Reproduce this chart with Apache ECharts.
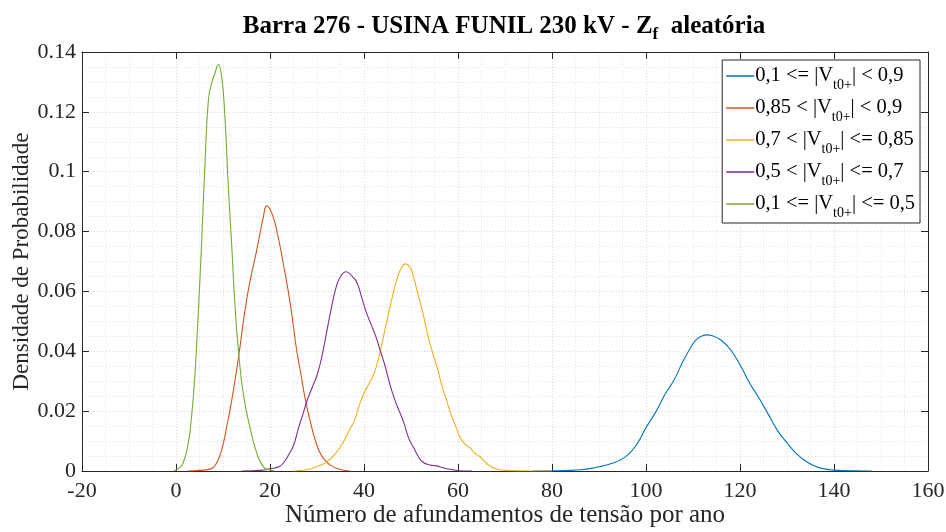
<!DOCTYPE html>
<html><head><meta charset="utf-8">
<script src="https://cdn.jsdelivr.net/npm/echarts@6/dist/echarts.min.js"></script>
<style>html,body{margin:0;padding:0;background:#fff}#c{width:946px;height:532px}</style>
</head><body><div id="c"></div>
<script>
const xTicks = [-20, 0, 20, 40, 60, 80, 100, 120, 140, 160];
const yTicks = [0, 0.02, 0.04, 0.06, 0.08, 0.1, 0.12, 0.14];
const seriesNames = [
  '0,1 <= |V{sub|t0+}| < 0,9',
  '0,85 < |V{sub|t0+}| < 0,9',
  '0,7 < |V{sub|t0+}| <= 0,85',
  '0,5 < |V{sub|t0+}| <= 0,7',
  '0,1 <= |V{sub|t0+}| <= 0,5'
];
const blue = [[76,0],[80,0.00005],[84,0.0002],[86,0.0004],[88,0.0008],[90,0.0014],[92,0.0022],[94,0.0033],[96,0.0052],[98,0.0088],[100,0.0145],[102,0.0195],[104,0.0255],[106,0.0305],[108,0.037],[110,0.0425],[111,0.0443],[112,0.0452],[113,0.0455],[114,0.0453],[116,0.0437],[118,0.0405],[120,0.0355],[122,0.0295],[124,0.0245],[126,0.019],[128,0.0135],[130,0.0094],[132,0.0058],[134,0.0033],[136,0.0016],[138,0.0007],[140,0.0003],[144,0.00005],[148,0]];
const red = [[2.5,0],[5,0.0002],[7.5,0.0008],[8.6,0.0026],[9.7,0.007],[10.8,0.0148],[11.9,0.024],[13.3,0.038],[14.7,0.054],[15.7,0.063],[17.2,0.074],[18.6,0.085],[19.3,0.0886],[20.3,0.0865],[21.4,0.0806],[22.8,0.0695],[24.3,0.056],[25.7,0.040],[26.4,0.034],[27.5,0.024],[28.5,0.017],[29.5,0.011],[30.5,0.0065],[31.5,0.004],[33,0.0018],[35,0.0005],[37,0]];
const yellow = [[25,0],[28,0.0005],[30,0.0015],[32,0.003],[34,0.006],[35.5,0.0094],[37,0.014],[38,0.017],[39,0.022],[40,0.026],[41,0.029],[42,0.032],[43,0.037],[44,0.044],[45,0.051],[46,0.058],[47,0.064],[48,0.068],[48.8,0.0692],[49.8,0.068],[50.5,0.065],[51.5,0.059],[52.5,0.053],[53.5,0.046],[54.5,0.040],[55.5,0.035],[56.5,0.029],[57.5,0.024],[58.5,0.019],[59.5,0.015],[60.5,0.011],[61.5,0.009],[62.5,0.0078],[63.5,0.006],[64.5,0.005],[65.5,0.0035],[66.5,0.002],[68,0.0008],[70,0.0002],[75,0],[80,0]];
const purple = [[14,0],[18,0.0002],[20,0.0007],[22,0.0015],[23,0.003],[24,0.0055],[25,0.0085],[26,0.014],[27,0.019],[28,0.024],[29,0.028],[30,0.032],[31,0.038],[32,0.046],[33,0.054],[34,0.061],[35,0.065],[36.2,0.0666],[37.5,0.065],[38.5,0.063],[39.5,0.058],[40.5,0.053],[41.5,0.049],[42.5,0.045],[43.5,0.04],[44.5,0.035],[45.5,0.029],[46.5,0.024],[47.5,0.02],[48.5,0.016],[49.5,0.011],[50.5,0.008],[51.5,0.005],[52.5,0.003],[54,0.002],[55.5,0.0017],[57,0.001],[58.5,0.0005],[61,0],[63,0]];
const green = [[-0.5,0],[0.5,0.0008],[1.5,0.0026],[2.6,0.0093],[3.3,0.018],[4.0,0.0315],[4.7,0.0516],[5.5,0.078],[6.2,0.104],[6.9,0.124],[7.6,0.1297],[8.3,0.133],[9.0,0.1358],[9.7,0.132],[10.4,0.1185],[11.1,0.096],[11.9,0.074],[12.6,0.054],[13.3,0.040],[14.3,0.026],[15.7,0.0148],[17.2,0.0059],[18.6,0.0014],[20,0.0003],[21,0]];
const colors = ['#0072BD', '#D95319', '#EDB120', '#7E2F8E', '#77AC30'];
const seriesData = [blue, red, yellow, purple, green];

const FONT = '"Liberation Serif", "DejaVu Serif", serif';
const chart = echarts.init(document.getElementById('c'), null, {renderer: 'canvas'});
const gridLine = {show: true, lineStyle: {color: '#d8d8d8', type: [1, 2], width: 1}};
const minorLine = {show: true, lineStyle: {color: '#e4e4e4', type: [1, 2], width: 1}};
const axisLine = {show: true, onZero: false, lineStyle: {color: '#262626', width: 1}};
const tick = {show: true, inside: true, length: 7, lineStyle: {color: '#262626'}};
const lbl = {fontFamily: FONT, fontSize: 22, color: '#262626'};
chart.setOption({
  animation: false,
  backgroundColor: '#fff',
  title: {
    text: 'Barra 276 - USINA FUNIL 230 kV - Z{sub|f}  aleatória',
    left: 499, textAlign: 'center', top: 8,
    textStyle: {fontFamily: FONT, fontSize: 25, fontWeight: 'bold', color: '#000', lineHeight: 28,
      rich: {sub: {fontFamily: FONT, fontSize: 17, fontWeight: 'bold', color: '#000', padding: [16, 0, 0, 0]}}}
  },
  legend: {
    orient: 'vertical', right: 26, top: 60,
    backgroundColor: '#fff', borderColor: '#262626', borderWidth: 1,
    padding: [0, 5, 3, 4], itemGap: 0, itemWidth: 28, itemHeight: 1.5, icon: 'rect',
    data: seriesNames,
    textStyle: {fontFamily: FONT, fontSize: 20.5, color: '#000', padding: [0, 0, 0, -4], lineHeight: 26,
      rich: {sub: {fontFamily: FONT, fontSize: 14, color: '#000', padding: [18, 0, 0, 0], lineHeight: 14}}}
  },
  grid: {left: 82, right: 18, top: 52, bottom: 61, containLabel: false, outerBoundsMode: 'none'},
  xAxis: [{
    type: 'value', min: xTicks[0], max: xTicks[xTicks.length - 1], interval: 20,
    name: 'Número de afundamentos de tensão por ano', nameLocation: 'middle', nameGap: 32, nameMoveOverlap: false,
    nameTextStyle: {fontFamily: FONT, fontSize: 25, color: '#262626'},
    axisLine: axisLine, axisTick: tick,
    axisLabel: Object.assign({margin: 9}, lbl),
    splitLine: gridLine, minorTick: {show: false, splitNumber: 4}, minorSplitLine: minorLine
  }, {
    type: 'value', position: 'top', min: xTicks[0], max: xTicks[xTicks.length - 1], interval: 20,
    axisLine: axisLine, axisTick: tick, axisLabel: {show: false}, splitLine: {show: false}
  }],
  yAxis: [{
    type: 'value', min: yTicks[0], max: yTicks[yTicks.length - 1], interval: 0.02,
    name: 'Densidade de Probabilidade', nameLocation: 'middle', nameGap: 49, nameMoveOverlap: false,
    nameTextStyle: {fontFamily: FONT, fontSize: 23, color: '#262626'},
    axisLine: axisLine, axisTick: tick,
    axisLabel: Object.assign({margin: 6, formatter: v => String(+v.toFixed(2))}, lbl),
    splitLine: gridLine, minorTick: {show: false, splitNumber: 4}, minorSplitLine: minorLine
  }, {
    type: 'value', position: 'right', min: yTicks[0], max: yTicks[yTicks.length - 1], interval: 0.02,
    axisLine: axisLine, axisTick: tick, axisLabel: {show: false}, splitLine: {show: false}
  }],
  series: seriesNames.map((n, i) => ({
    name: n, type: 'line', data: seriesData[i], smooth: 0.5,
    showSymbol: false, symbol: 'none', color: colors[i],
    lineStyle: {width: 1.1, color: colors[i]}, z: 3
  }))
});
</script></body></html>
